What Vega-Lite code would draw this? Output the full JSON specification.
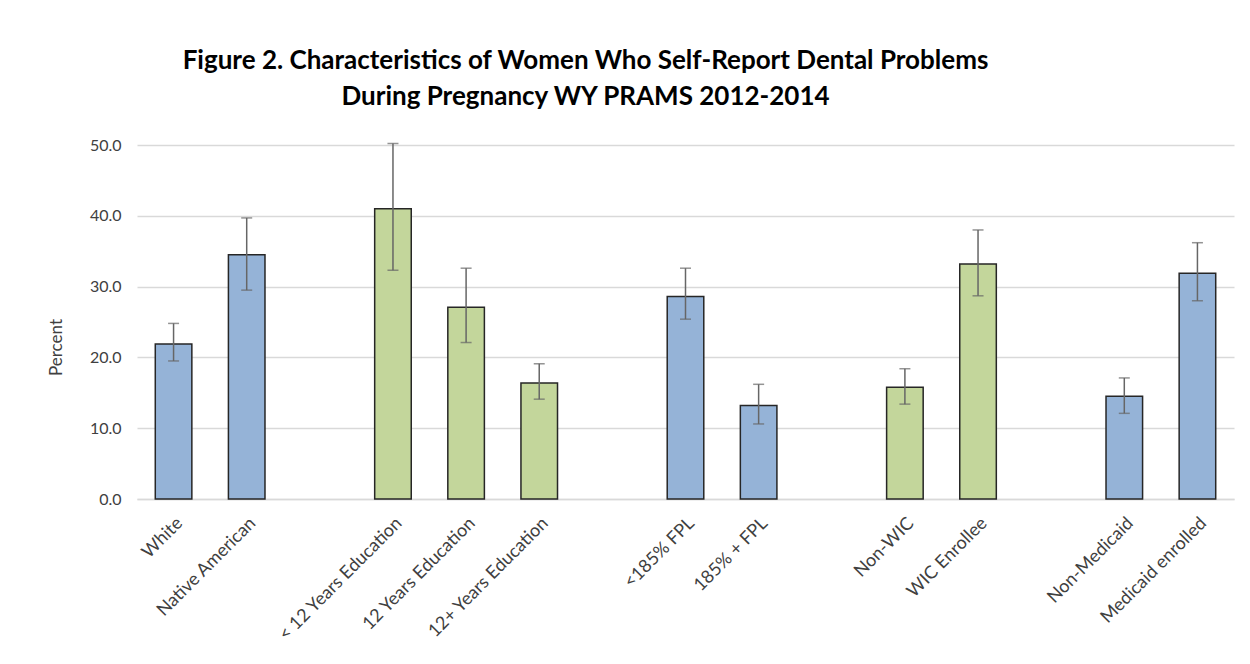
{
  "$schema": "https://vega.github.io/schema/vega-lite/v6.json",
  "autosize": "none",
  "width": 1097,
  "height": 354,
  "padding": {"left": 137, "top": 145, "right": 16, "bottom": 165},
  "background": "white",
  "config": {
    "font": "Lato",
    "view": {"stroke": null},
    "axis": {"labelFont": "Lato", "titleFont": "Lato", "labelColor": "#404040", "titleColor": "#404040"}
  },
  "title": {
    "text": ["Figure 2.  Characteristics of Women Who Self-Report Dental Problems", "During Pregnancy WY PRAMS 2012-2014"],
    "font": "Lato",
    "fontSize": 26,
    "fontWeight": "bold",
    "color": "#000000",
    "anchor": "middle",
    "dx": -100,
    "offset": 27,
    "lineHeight": 36
  },
  "data": {
    "values": [
      {"label": "White", "value": 21.9, "lo": 19.5, "hi": 24.8, "grp": "a"},
      {"label": "Native American", "value": 34.5, "lo": 29.5, "hi": 39.7, "grp": "a"},
      {"label": "< 12 Years Education", "value": 41.0, "lo": 32.3, "hi": 50.2, "grp": "b"},
      {"label": "12 Years Education", "value": 27.1, "lo": 22.1, "hi": 32.6, "grp": "b"},
      {"label": "12+ Years Education", "value": 16.4, "lo": 14.1, "hi": 19.1, "grp": "b"},
      {"label": "<185% FPL", "value": 28.6, "lo": 25.4, "hi": 32.6, "grp": "a"},
      {"label": "185% + FPL", "value": 13.2, "lo": 10.6, "hi": 16.2, "grp": "a"},
      {"label": "Non-WIC", "value": 15.8, "lo": 13.4, "hi": 18.4, "grp": "b"},
      {"label": "WIC Enrollee", "value": 33.2, "lo": 28.7, "hi": 38.0, "grp": "b"},
      {"label": "Non-Medicaid", "value": 14.5, "lo": 12.1, "hi": 17.1, "grp": "a"},
      {"label": "Medicaid enrolled", "value": 31.9, "lo": 28.0, "hi": 36.2, "grp": "a"}
    ]
  },
  "encoding": {
    "x": {
      "field": "label",
      "type": "nominal",
      "sort": null,
      "scale": {
        "domain": ["White", "Native American", " ", "< 12 Years Education", "12 Years Education", "12+ Years Education", "  ", "<185% FPL", "185% + FPL", "   ", "Non-WIC", "WIC Enrollee", "    ", "Non-Medicaid", "Medicaid enrolled"],
        "paddingInner": 0.5,
        "paddingOuter": 0.25
      },
      "axis": {
        "title": null,
        "labelAngle": -45,
        "labelFontSize": 18,
        "labelPadding": 15,
        "labelLimit": 300,
        "ticks": false,
        "domainColor": "#d9d9d9",
        "domainWidth": 1.5,
        "grid": false
      }
    }
  },
  "layer": [
    {
      "mark": {"type": "bar", "stroke": "#262626", "strokeWidth": 1.5},
      "encoding": {
        "y": {
          "field": "value",
          "type": "quantitative",
          "scale": {"domain": [0, 50]},
          "axis": {
            "title": "Percent",
            "titleFontSize": 17,
            "titleFontWeight": "normal",
            "titlePadding": 24,
            "titleY": 202,
            "titleAlign": "center",
            "values": [0, 10, 20, 30, 40, 50],
            "format": ".1f",
            "labelFontSize": 16,
            "labelPadding": 16,
            "ticks": false,
            "domain": false,
            "gridColor": "#d9d9d9",
            "gridWidth": 1.5
          }
        },
        "color": {
          "field": "grp",
          "type": "nominal",
          "scale": {"domain": ["a", "b"], "range": ["#95b3d7", "#c3d69b"]},
          "legend": null
        }
      }
    },
    {
      "mark": {"type": "rule", "color": "#666666", "strokeWidth": 1.5},
      "encoding": {
        "y": {"field": "lo", "type": "quantitative"},
        "y2": {"field": "hi"}
      }
    },
    {
      "mark": {"type": "tick", "color": "#666666", "thickness": 1.5, "size": 11, "orient": "horizontal"},
      "encoding": {"y": {"field": "lo", "type": "quantitative"}}
    },
    {
      "mark": {"type": "tick", "color": "#666666", "thickness": 1.5, "size": 11, "orient": "horizontal"},
      "encoding": {"y": {"field": "hi", "type": "quantitative"}}
    }
  ]
}
